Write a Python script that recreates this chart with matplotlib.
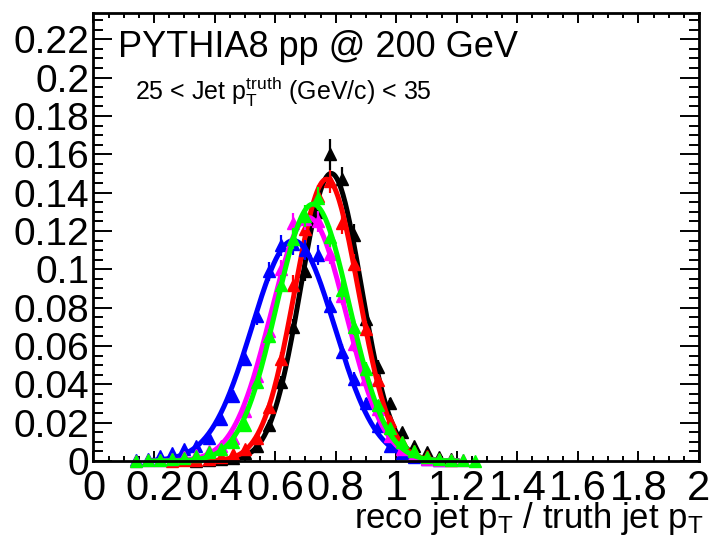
import numpy as np
import matplotlib
matplotlib.use('Agg')
import matplotlib.pyplot as plt
from matplotlib.ticker import MultipleLocator, FuncFormatter

plt.rcParams['font.family'] = ['Liberation Sans', 'DejaVu Sans']
plt.rcParams['mathtext.fontset'] = 'custom'
plt.rcParams['mathtext.rm'] = 'Liberation Sans'
plt.rcParams['mathtext.it'] = 'Liberation Sans:italic'

nan = np.nan

# bin centres of reco/truth ratio
bin_centers = [0.14, 0.18, 0.22, 0.26, 0.30, 0.34, 0.38, 0.42, 0.46, 0.50,
               0.54, 0.58, 0.62, 0.66, 0.70, 0.74, 0.78, 0.82, 0.86, 0.90,
               0.94, 0.98, 1.02, 1.06, 1.10, 1.14, 1.18, 1.22, 1.26]

# normalised counts per series
black_vals = [nan, nan, nan, nan, nan, 0.0002, 0.0003, 0.0008, 0.0015, 0.004,
              0.008, 0.019, 0.041, 0.070, 0.099, 0.130, 0.160, 0.147, 0.118, 0.074,
              0.049, 0.030, 0.015, 0.008, 0.0045, 0.002, 0.001, nan, nan]
red_vals = [nan, nan, nan, 0.0002, 0.0003, 0.0006, 0.001, 0.002, 0.0035, 0.006,
            0.012, 0.028, 0.053, 0.092, 0.121, 0.138, 0.146, 0.124, 0.103, 0.069,
            0.042, 0.021, 0.010, 0.005, 0.0025, 0.001, 0.0005, nan, nan]
blue_vals = [0.0005, 0.001, 0.0025, 0.004, 0.0065, 0.008, 0.012, 0.022, 0.034, 0.053,
             0.0755, 0.099, 0.1125, 0.113, 0.110, 0.1075, 0.081, 0.057, 0.043, 0.030,
             0.018, 0.008, 0.004, 0.002, 0.001, 0.0005, nan, nan, nan]
magenta_vals = [0.0002, 0.0004, 0.0007, 0.0012, 0.002, 0.003, 0.005, 0.008, 0.012, 0.026,
                0.0445, 0.068, 0.100, 0.124, 0.126, 0.125, 0.108, 0.086, 0.061, 0.043,
                0.027, 0.013, 0.006, 0.003, 0.0012, 0.0006, 0.0003, 0.0003, nan]
green_vals = [0.0002, 0.0003, 0.0005, 0.001, 0.0015, 0.0025, 0.0045, 0.0065, 0.010, 0.019,
              0.041, 0.065, 0.092, 0.116, 0.128, 0.137, 0.117, 0.089, 0.070, 0.048,
              0.029, 0.017, 0.010, 0.005, 0.002, 0.001, 0.0005, 0.0003, 0.0002]

# statistical errors
black_errs = [nan, nan, nan, nan, nan, 0.0002, 0.0003, 0.0005, 0.0006, 0.001,
              0.0014, 0.0022, 0.0033, 0.0042, 0.005, 0.0058, 0.008, 0.0065, 0.0055, 0.0044,
              0.0035, 0.0028, 0.002, 0.0014, 0.001, 0.0007, 0.0005, nan, nan]
red_errs = [nan, nan, nan, 0.0002, 0.0003, 0.0004, 0.0005, 0.0007, 0.001, 0.0012,
            0.0018, 0.0027, 0.0037, 0.0048, 0.0055, 0.006, 0.006, 0.0056, 0.0051, 0.0042,
            0.0033, 0.0023, 0.0016, 0.0011, 0.0008, 0.0005, 0.0004, nan, nan]
blue_errs = [0.0004, 0.0005, 0.0008, 0.001, 0.0013, 0.0014, 0.0018, 0.0024, 0.003, 0.0037,
             0.0044, 0.005, 0.0054, 0.0054, 0.0053, 0.0052, 0.0046, 0.0038, 0.0033, 0.0028,
             0.0021, 0.0014, 0.001, 0.0007, 0.0005, 0.0004, nan, nan, nan]
magenta_errs = [0.0002, 0.0003, 0.0004, 0.0006, 0.0007, 0.0009, 0.0011, 0.0014, 0.0018, 0.0026,
                0.0034, 0.0042, 0.005, 0.0056, 0.0057, 0.0056, 0.0052, 0.0046, 0.0039, 0.0033,
                0.0026, 0.0018, 0.0012, 0.0009, 0.0006, 0.0004, 0.0003, 0.0003, nan]
green_errs = [0.0002, 0.0003, 0.0004, 0.0005, 0.0006, 0.0008, 0.0011, 0.0013, 0.0016, 0.0022,
              0.0032, 0.004, 0.0048, 0.0054, 0.0057, 0.0059, 0.0055, 0.0048, 0.0042, 0.0035,
              0.0027, 0.0021, 0.0016, 0.0011, 0.0007, 0.0005, 0.0004, 0.0003, 0.0002]

# gaussian fit parameters (mean, sigma, amplitude)
fit_mean = [0.785, 0.770, 0.660, 0.710, 0.725]
fit_sigma = [0.100, 0.105, 0.137, 0.124, 0.120]
fit_amp = [0.150, 0.147, 0.115, 0.127, 0.134]

colors = ['#000000', '#ff0000', '#0000ff', '#ff00ff', '#00ff00']
all_vals = [black_vals, red_vals, blue_vals, magenta_vals, green_vals]
all_errs = [black_errs, red_errs, blue_errs, magenta_errs, green_errs]

fig = plt.figure(figsize=(7.11, 5.41), dpi=100)
ax = fig.add_axes([0.1315, 0.1479, 0.8516, 0.8281])

xfit = np.linspace(0.2, 1.2, 400)
for i in range(len(colors)):
    z = 3 + 2 * i
    ax.errorbar(bin_centers, all_vals[i], yerr=all_errs[i], fmt='^', ms=9,
                color=colors[i], elinewidth=1.6, capsize=0, zorder=z, clip_on=False)
    yfit = fit_amp[i] * np.exp(-0.5 * ((xfit - fit_mean[i]) / fit_sigma[i]) ** 2)
    ax.plot(xfit, yfit, color=colors[i], lw=3.6, zorder=z + 1)

ax.set_xlim(0, 2)
ax.set_ylim(0, 0.2337)

ax.xaxis.set_major_locator(MultipleLocator(0.2))
ax.xaxis.set_minor_locator(MultipleLocator(0.05))
ax.yaxis.set_major_locator(MultipleLocator(0.02))
ax.yaxis.set_minor_locator(MultipleLocator(0.005))
fmt = FuncFormatter(lambda v, p: '%g' % round(v, 3))
ax.xaxis.set_major_formatter(fmt)
ax.yaxis.set_major_formatter(fmt)

ax.tick_params(which='both', direction='in', top=True, right=True, width=1.4)
ax.xaxis.set_tick_params(which='major', length=7.5, pad=6, labelsize=30)
ax.xaxis.set_tick_params(which='minor', length=3.6)
ax.yaxis.set_tick_params(which='major', length=14, pad=3, labelsize=28)
ax.yaxis.set_tick_params(which='minor', length=7)
for sp in ax.spines.values():
    sp.set_linewidth(2)
    sp.set_zorder(20)

fig.text(0.166, 0.8946, 'PYTHIA8 pp @ 200 GeV', fontsize=26, va='baseline')
fig.text(0.19, 0.815, r'25 < Jet p$_{\rm T}^{\rm truth}$ (GeV/c) < 35',
         fontsize=18, va='baseline')
fig.text(0.99, 0.024, r'reco jet p$_{\rm T}$ / truth jet p$_{\rm T}$',
         fontsize=25, ha='right', va='baseline')

plt.savefig('out.png', dpi=100)
